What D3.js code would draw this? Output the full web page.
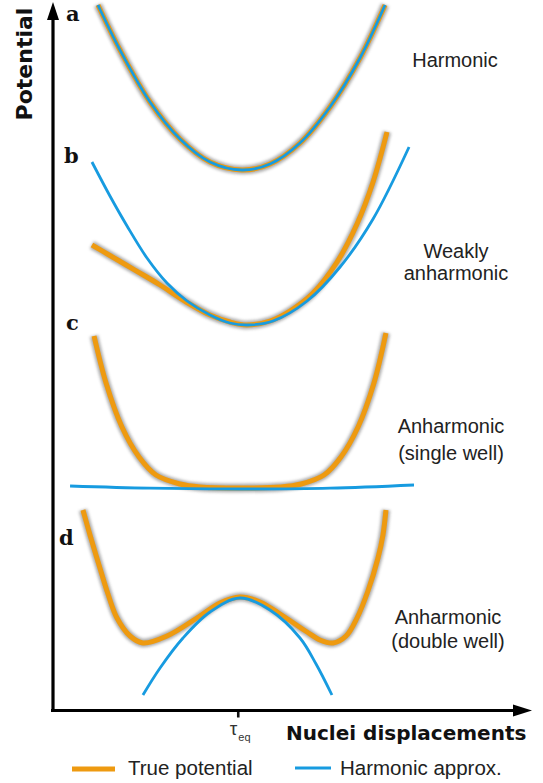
<!DOCTYPE html>
<html><head><meta charset="utf-8">
<script src="https://cdn.jsdelivr.net/npm/d3@7"></script>
<style>
html,body{margin:0;padding:0;background:#fff;}
svg{display:block;}
</style></head>
<body>
<svg id="chart" width="543" height="783"></svg>
<script>
// ---- data (displacement, potential) per panel ----
const aTrue = [[-0.947,1.65],[-0.8,1.20],[-0.6,0.68],[-0.4,0.31],[-0.2,0.08],[0.013,0],[0.2,0.06],[0.4,0.27],[0.6,0.63],[0.8,1.12],[0.967,1.65]];
const aHarm = aTrue.slice();
const bTrue = [[-0.987,0.80],[-0.867,0.695],[-0.753,0.595],[-0.633,0.49],[-0.533,0.40],[-0.353,0.225],[-0.2,0.10],[-0.067,0.03],[0.047,0],[0.2,0.04],[0.333,0.14],[0.487,0.32],[0.647,0.63],[0.78,1.01],[0.887,1.43],[0.98,1.93]];
const bHarm = [[-0.987,1.63],[-0.867,1.29],[-0.753,0.99],[-0.62,0.67],[-0.487,0.42],[-0.353,0.24],[-0.2,0.10],[-0.067,0.02],[0.053,0],[0.22,0.04],[0.447,0.24],[0.667,0.58],[0.887,1.06],[1.127,1.78]];
const cTrue = [[-0.973,1.53],[-0.893,1.06],[-0.787,0.62],[-0.673,0.32],[-0.56,0.14],[-0.4,0.05],[-0.267,0.02],[0,0.01],[0.273,0.02],[0.407,0.05],[0.56,0.14],[0.673,0.32],[0.787,0.62],[0.893,1.06],[0.973,1.56]];
const cHarm = [[-1.133,0.03],[-0.6,0.008],[0,0],[0.6,0.008],[1.16,0.04]];
const dTrue = [[-1.047,1.33],[-1.0,1.08],[-0.94,0.78],[-0.88,0.49],[-0.82,0.25],[-0.733,0.07],[-0.647,0],[-0.487,0.07],[-0.267,0.27],[-0.133,0.40],[0,0.46],[0.133,0.41],[0.267,0.29],[0.447,0.11],[0.533,0.03],[0.62,0],[0.707,0.07],[0.78,0.25],[0.853,0.52],[0.92,0.85],[0.953,1.08],[0.973,1.33]];
const dHarm = [[-0.647,-0.52],[-0.533,-0.25],[-0.38,0.05],[-0.2,0.31],[0,0.45],[0.2,0.33],[0.4,0.05],[0.507,-0.21],[0.613,-0.52]];
const panelLabels = ["a","b","c","d"];
const panelTexts = [["Harmonic"],["Weakly","anharmonic"],["Anharmonic","(single well)"],["Anharmonic","(double well)"]];
const tauEq = -0.015;
const legendLabels = ["True potential","Harmonic approx."];

// ---- layout ----
const svg = d3.select("#chart");
const ORANGE = "#EE9A10", BLUE = "#179BE0";
const x = d3.scaleLinear().domain([-1,1]).range([90,390]);
const bases = [170,325,489,643];
const yScales = bases.map(b => d3.scaleLinear().domain([0,1]).range([b, b-100]));

const defs = svg.append("defs");
defs.append("filter").attr("id","glow").attr("x","-20%").attr("y","-20%").attr("width","140%").attr("height","140%")
  .append("feGaussianBlur").attr("stdDeviation",1.6);

const panels = [
  {t:aTrue,h:aHarm},{t:bTrue,h:bHarm},{t:cTrue,h:cHarm},{t:dTrue,h:dHarm}
];
const mkLine = i => d3.line().x(d=>x(d[0])).y(d=>yScales[i](d[1])).curve(d3.curveCatmullRom.alpha(0.5));

// orange curves with grey halo
panels.forEach((p,i)=>{
  const line = mkLine(i);
  svg.append("path").attr("d",line(p.t)).attr("fill","none").attr("stroke","#888")
    .attr("stroke-width",8.5).attr("opacity",0.7).attr("filter","url(#glow)");
  svg.append("path").attr("d",line(p.t)).attr("fill","none").attr("stroke",ORANGE).attr("stroke-width",5);
});
// blue harmonic curves
panels.forEach((p,i)=>{
  const line = mkLine(i);
  svg.append("path").attr("d",line(p.h)).attr("fill","none").attr("stroke",BLUE).attr("stroke-width",2.8);
});

// panel letters
const letterPos = [[66,21],[64,163],[66,330],[59,545]];
panelLabels.forEach((l,i)=>{
  svg.append("text").attr("x",letterPos[i][0]).attr("y",letterPos[i][1]).text(l)
    .attr("font-family","DejaVu Serif, serif").attr("font-weight","bold").attr("font-size",21).attr("fill","#111");
});

// annotation texts
const textPos = [[455,67],[456,258],[451,433],[448,624]];
const lineGap = [0,22,27,24];
panelTexts.forEach((lines,i)=>{
  lines.forEach((s,j)=>{
    svg.append("text").attr("x",textPos[i][0]).attr("y",textPos[i][1]+j*lineGap[i]).text(s)
      .attr("text-anchor","middle").attr("font-family","Liberation Sans, Arial, sans-serif")
      .attr("font-size",20).attr("fill","#222");
  });
});

// axes
const axisG = svg.append("g").attr("transform","translate(0,710.5)");
axisG.call(d3.axisBottom(x).tickValues([tauEq]).tickFormat("").tickSize(7).tickSizeOuter(0));
axisG.select(".domain").remove();
axisG.selectAll(".tick line").attr("stroke","#111").attr("stroke-width",2.6);

svg.append("line").attr("x1",51).attr("x2",517).attr("y1",710.5).attr("y2",710.5).attr("stroke","#000").attr("stroke-width",3.2);
svg.append("path").attr("d","M532,710.5 L513,704.5 L513,716.5 Z").attr("fill","#000");
svg.append("line").attr("x1",53).attr("x2",53).attr("y1",712).attr("y2",17).attr("stroke","#000").attr("stroke-width",3.2);
svg.append("path").attr("d","M53,2 L47,20 L59,20 Z").attr("fill","#000");

// tau_eq
const tx = x(tauEq);
const tauT = svg.append("text").attr("x",tx-8).attr("y",735).attr("font-family","Liberation Sans, Arial, sans-serif")
  .attr("font-size",19).attr("fill","#333");
tauT.append("tspan").text("τ");
tauT.append("tspan").text("eq").attr("font-size",11).attr("dy",6).attr("dx",1);

// axis titles
svg.append("text").attr("x",286).attr("y",740).text("Nuclei displacements")
  .attr("font-family","DejaVu Sans, sans-serif").attr("font-weight","bold").attr("font-size",20).attr("fill","#111");
svg.append("text").attr("transform","translate(32,64) rotate(-90)").attr("text-anchor","middle").text("Potential")
  .attr("font-family","DejaVu Sans, sans-serif").attr("font-weight","bold").attr("font-size",22).attr("fill","#111");

// legend
const lg = svg.append("g");
lg.append("line").attr("x1",72).attr("x2",115).attr("y1",769).attr("y2",769).attr("stroke","#888")
  .attr("stroke-width",8.5).attr("opacity",0.7).attr("filter","url(#glow)");
lg.append("line").attr("x1",72).attr("x2",115).attr("y1",769).attr("y2",769).attr("stroke",ORANGE).attr("stroke-width",5);
lg.append("text").attr("x",128).attr("y",775).text(legendLabels[0]).attr("font-family","Liberation Sans, Arial, sans-serif").attr("font-size",20.5).attr("fill","#222");
lg.append("line").attr("x1",295).attr("x2",331).attr("y1",768).attr("y2",768).attr("stroke",BLUE).attr("stroke-width",2.8);
lg.append("text").attr("x",340).attr("y",775).text(legendLabels[1]).attr("font-family","Liberation Sans, Arial, sans-serif").attr("font-size",20.5).attr("fill","#222");
</script>
</body></html>
